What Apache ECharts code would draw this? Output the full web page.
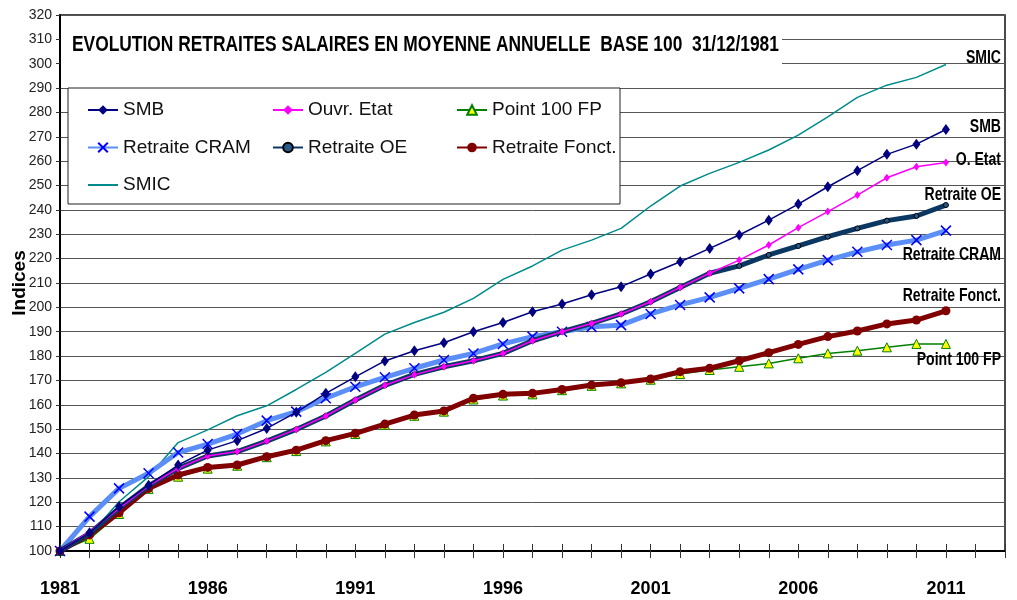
<!DOCTYPE html>
<html>
<head>
<meta charset="utf-8">
<script src="https://cdn.jsdelivr.net/npm/echarts@6/dist/echarts.min.js"></script>
<style>html,body{margin:0;padding:0;background:#fff}#c{width:1017px;height:600px}</style>
</head>
<body>
<div id="c"></div>
<script>
const years = [1981,1982,1983,1984,1985,1986,1987,1988,1989,1990,1991,1992,1993,1994,1995,1996,1997,1998,1999,2000,2001,2002,2003,2004,2005,2006,2007,2008,2009,2010,2011];
const smb = [100,107.5,118.2,127,135.3,141.4,145.3,150.3,156.9,164.7,171.5,178,182.2,185.5,190,193.8,198.2,201.4,205.2,208.5,213.7,218.7,224.2,229.7,235.8,242.4,249.5,256.1,262.8,267,273];
const ouvrEtat = [100,107.9,117.5,126.7,133.9,139,140.8,145.1,149.9,155.4,162,168,172.3,175.6,178.1,181.1,186.3,190,193.4,197.3,202.3,208.2,214,219.4,225.6,232.7,239.3,246.1,253.2,257.7,259.5];
const point100 = [100,105,115.2,125.5,130.5,133.8,135,138.5,141,145,148,151.8,155.5,157.2,162.2,163.8,164.3,166,167.8,168.8,170.3,172.6,174.3,175.6,177,179.1,181.1,182.2,183.6,185,185];
const retCram = [100,114.1,125.7,131.9,140.4,143.9,148,153.5,157.2,162.7,167.4,171.3,175,178.4,181.1,185,188,190,192,192.7,197.3,201,204.1,207.8,211.6,215.6,219.4,222.8,225.6,227.6,231.5];
const retOE = [100,107.2,117.5,126.7,133.9,139,140.8,145.1,149.9,155.4,162,168,172.5,175.6,178.1,181.1,186.3,190,193.4,197.3,202.3,208.2,214,217,221.5,225.2,229,232.4,235.6,237.5,242];
const retFonct = [100,106.6,115.7,125.7,131.2,134.3,135.3,138.7,141.4,145.3,148.3,152.1,155.8,157.5,162.7,164.3,164.7,166.3,168.1,169.1,170.6,173.6,175,178.1,181.4,184.8,188,190.3,193.2,194.8,198.6];
const smic = [100,106.5,120.2,130.5,144.5,149.7,155.5,159.6,166.3,173.3,181.1,189,193.8,198,203.7,211.5,217,223.5,227.6,232.4,241.6,249.8,255,259.5,264.6,270.7,278.2,286.2,291.2,294.4,299.7];

const titleText = 'EVOLUTION RETRAITES SALAIRES EN MOYENNE ANNUELLE  BASE 100  31/12/1981';
const endLabels = [['SMIC',58],['SMB',127],['O. Etat',160],['Retraite OE',195],['Retraite CRAM',255],['Retraite Fonct.',296],['Point 100 FP',360]];

const FONT = "'Liberation Sans Narrow','Arial Narrow','Liberation Sans',sans-serif";
const pairs = arr => years.map((y,i)=>[y,arr[i]]);

const chart = echarts.init(document.getElementById('c'), null, {renderer:'canvas'});
const legendBase = {
  orient:'vertical', itemWidth:30, itemHeight:12, itemGap:13.5, padding:0,
  textStyle:{fontFamily:FONT, fontSize:19, color:'#111', lineHeight:24},
  selectedMode:false
};
const xBase = {type:'value',min:1981,max:2013,interval:1,gridIndex:0,position:'bottom'};
chart.setOption({
  animation:false,
  backgroundColor:'#fff',
  grid:{left:60,right:12,top:15,bottom:49,outerBoundsMode:'none',containLabel:false,show:true,borderColor:'#111',borderWidth:1.5,backgroundColor:'transparent'},
  xAxis:[
    Object.assign({},xBase,{
      axisLine:{lineStyle:{color:'#000',width:2}},
      axisTick:{length:7,lineStyle:{color:'#333',width:1}},
      splitLine:{show:false},
      axisLabel:{margin:29,fontFamily:FONT,fontWeight:'bold',fontSize:18,color:'#000',
        formatter:v=>((v-1981)%5===0 && v<=2011)?String(v):''}
    }),
    Object.assign({},xBase,{
      axisLine:{show:false},
      axisTick:{inside:true,length:7,lineStyle:{color:'#333',width:1}},
      splitLine:{show:false},
      axisLabel:{show:false}
    })
  ],
  yAxis:{type:'value',min:100,max:320,interval:10,
    name:'Indices',nameLocation:'middle',nameGap:31,nameMoveOverlap:false,
    nameTextStyle:{fontFamily:FONT,fontWeight:'bold',fontSize:19,color:'#000'},
    axisLine:{show:true,lineStyle:{color:'#000',width:2}},
    axisTick:{show:true,length:4,lineStyle:{color:'#333'}},
    splitLine:{lineStyle:{color:'#555',width:1}},
    axisLabel:{margin:8,fontFamily:FONT,fontSize:14,color:'#222'}
  },
  legend:[
    Object.assign({},legendBase,{left:87,top:98,data:['SMB','Retraite CRAM','SMIC']}),
    Object.assign({},legendBase,{left:272,top:98,data:['Ouvr. Etat','Retraite OE']}),
    Object.assign({},legendBase,{left:456,top:98,data:['Point 100 FP','Retraite Fonct.']})
  ],
  graphic:[
    {type:'rect',z:1,shape:{x:61,y:28,width:721,height:48},style:{fill:'#fff'}},
    {type:'text',z:5,x:72,y:45,scaleX:0.79,style:{text:titleText,verticalAlign:'middle',fontFamily:FONT,fontWeight:'bold',fontSize:22,fill:'#000'}},
    {type:'rect',z:1,shape:{x:68,y:88,width:552,height:116},style:{fill:'#fff',stroke:'#222',lineWidth:1}}
  ].concat(endLabels.map(l=>({type:'text',z:5,x:1001,y:l[1],scaleX:0.78,style:{text:l[0],align:'right',verticalAlign:'middle',fontFamily:FONT,fontWeight:'bold',fontSize:18,fill:'#000'}}))),
  series:[
    {name:'SMIC',type:'line',z:2,data:pairs(smic),showSymbol:false,symbol:'circle',lineStyle:{color:'#008b8b',width:1.5},itemStyle:{color:'#008b8b',opacity:0}},
    {name:'Point 100 FP',type:'line',z:3,data:pairs(point100),symbol:'triangle',symbolSize:9,showAllSymbol:true,
      lineStyle:{color:'#008000',width:1.5},itemStyle:{color:'#ffff00',borderColor:'#008000',borderWidth:1}},
    {name:'Retraite CRAM',type:'line',z:4,data:pairs(retCram),symbol:'path://M0,0L10,10M10,0L0,10',symbolSize:10,showAllSymbol:true,
      lineStyle:{color:'#5b8ff7',width:5},itemStyle:{color:'#0000ff',borderColor:'#0000ff',borderWidth:1.5}},
    {name:'Retraite Fonct.',type:'line',z:5,data:pairs(retFonct),symbol:'circle',symbolSize:9,showAllSymbol:true,
      lineStyle:{color:'#800000',width:5},itemStyle:{color:'#800000'}},
    {name:'Retraite OE',type:'line',z:6,data:pairs(retOE),symbol:'circle',symbolSize:5,showAllSymbol:true,
      lineStyle:{color:'#0b3763',width:5},itemStyle:{color:'#2a5a8a',borderColor:'#000',borderWidth:1}},
    {name:'Ouvr. Etat',type:'line',z:7,data:pairs(ouvrEtat),symbol:'diamond',symbolSize:[6,8],showAllSymbol:true,
      lineStyle:{color:'#ff00ff',width:1.5},itemStyle:{color:'#ff00ff'}},
    {name:'SMB',type:'line',z:8,data:pairs(smb),symbol:'diamond',symbolSize:[8,11],showAllSymbol:true,
      lineStyle:{color:'#000080',width:1.5},itemStyle:{color:'#000080'}}
  ]
});
</script>
</body>
</html>
